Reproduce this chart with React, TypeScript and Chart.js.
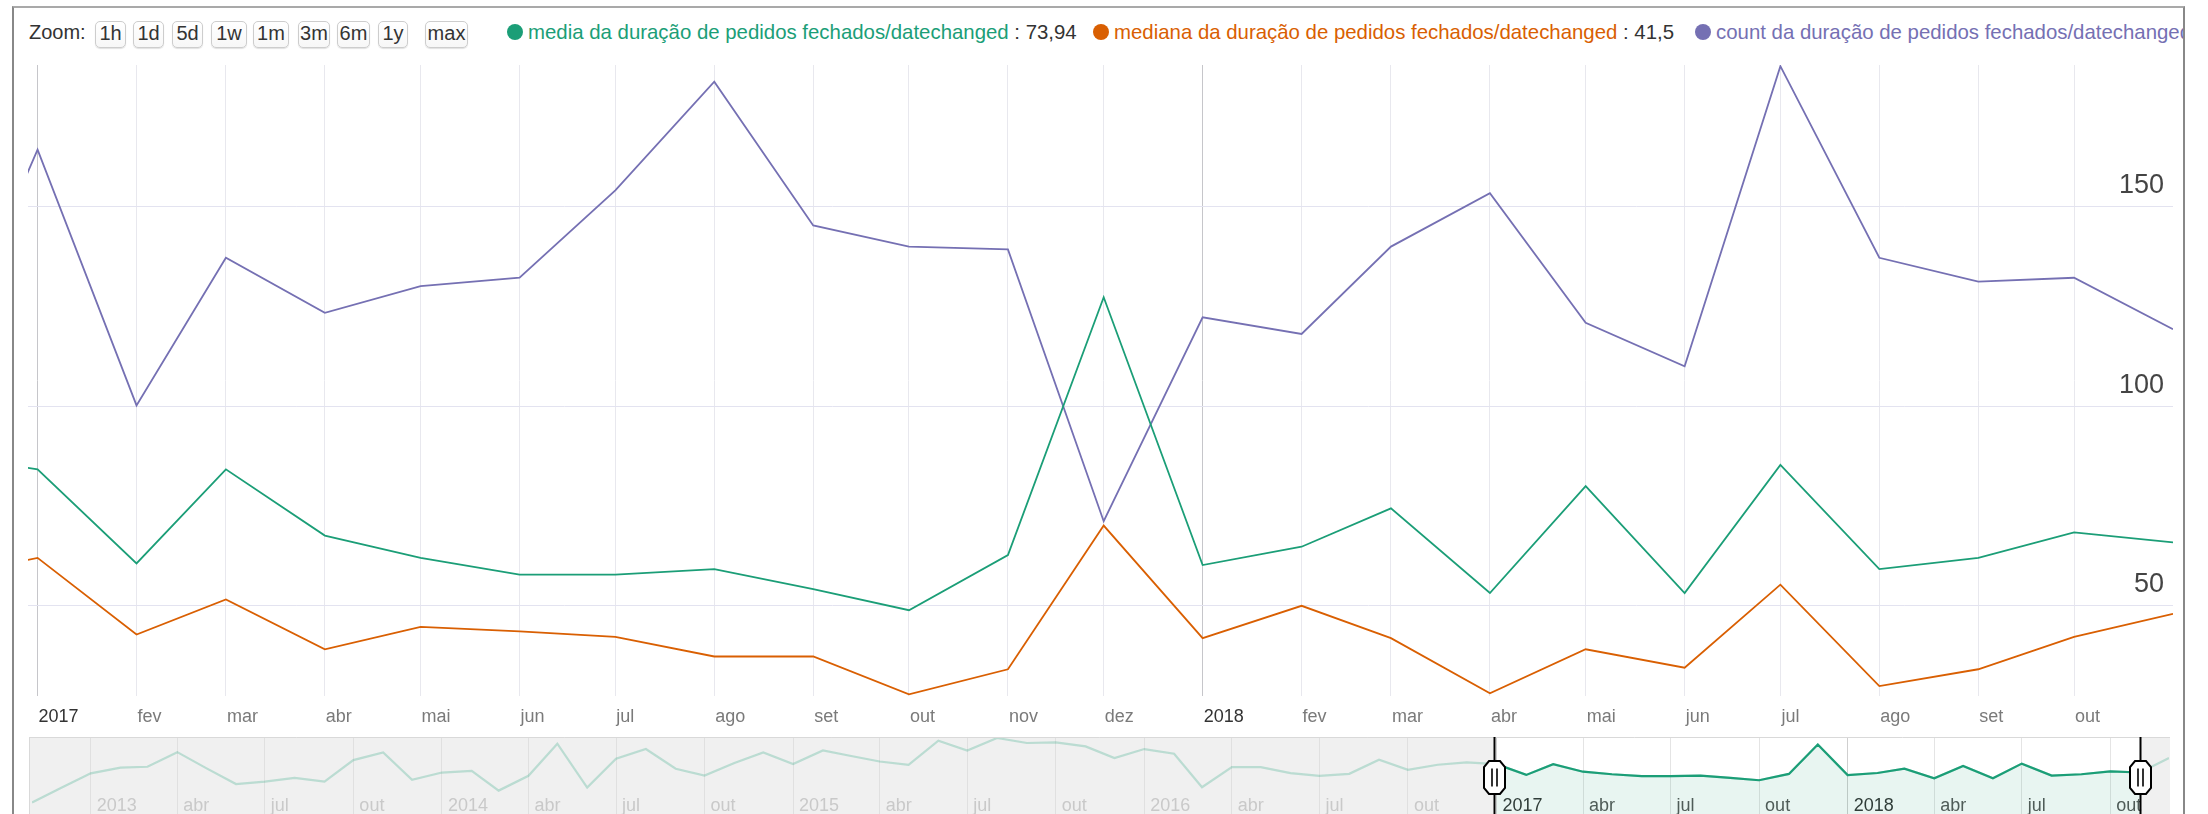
import React, { useEffect, useRef } from "react";
import { Chart, registerables } from "chart.js";

Chart.register(...registerables);

const FONT = '"Liberation Sans", Arial, Helvetica, sans-serif';
const GREEN = "#1b9e77";
const ORANGE = "#d95f02";
const PURPLE = "#7570b3";

// ---------- data (monthly, first day of month) ----------
const mediaStart = "2012-11";
const mediaValues = [
  0, 32,
  64, 76.5, 78.5, 110.5, 75.5, 40.5, 46, 54, 46, 93, 110, 49.7,
  65.8, 69.6, 26.2, 58.6, 129, 32.8, 96, 117.3, 74, 59.2, 86.5, 109.8,
  84.3, 114.2, 102.6, 90, 82.8, 135.6, 114.2, 141.5, 130.5, 131.9, 123, 97.5,
  117.3, 107, 33.7, 77.7, 77.7, 64.5, 58.6, 63, 93.8, 71.8, 82.8, 88,
  84.2, 60.6, 84.2, 67.6, 62.0, 57.8, 57.8, 59.2, 54.2, 48.9, 62.7, 127.3,
  60.2, 64.8, 74.4, 53.2, 80.0, 53.2, 85.3, 59.2, 62.0, 68.4, 65.9, 97.5,
];

const windowStart = "2016-12";
const medianaValues = [
  57, 62.0, 42.8, 51.6, 39.1, 44.7, 43.6, 42.2, 37.3, 37.3, 27.8, 34.1, 70.1,
  41.9, 50.0, 41.9, 28.1, 39.1, 34.5, 55.3, 29.9, 34.1, 42.2, 48.0,
];
const countValues = [
  107, 164.3, 100.2, 137.2, 123.4, 130.1, 132.2, 154.1, 181.3, 145.3, 140.0, 139.3, 71.2,
  122.3, 118.1, 140.0, 153.4, 120.9, 110.0, 185.2, 137.2, 131.2, 132.2, 119.3,
];

const seriesLabels = [
  "media da duração de pedidos fechados/datechanged",
  "mediana da duração de pedidos fechados/datechanged",
  "count da duração de pedidos fechados/datechanged",
];
const legendValues = ["73,94", "41,5", ""];

const VIEW_START = "2016-12-29";
const VIEW_END = "2018-11-01";

const mainTickMonths = [
  "2017-01", "2017-02", "2017-03", "2017-04", "2017-05", "2017-06", "2017-07", "2017-08",
  "2017-09", "2017-10", "2017-11", "2017-12", "2018-01", "2018-02", "2018-03", "2018-04",
  "2018-05", "2018-06", "2018-07", "2018-08", "2018-09", "2018-10",
];
const mainTickLabels = [
  "2017", "fev", "mar", "abr", "mai", "jun", "jul", "ago", "set", "out", "nov", "dez",
  "2018", "fev", "mar", "abr", "mai", "jun", "jul", "ago", "set", "out",
];
const yTickValues = [50, 100, 150];

const miniTickMonths = [
  "2013-01", "2013-04", "2013-07", "2013-10", "2014-01", "2014-04", "2014-07", "2014-10",
  "2015-01", "2015-04", "2015-07", "2015-10", "2016-01", "2016-04", "2016-07", "2016-10",
  "2017-01", "2017-04", "2017-07", "2017-10", "2018-01", "2018-04", "2018-07", "2018-10",
];
const miniTickLabels = [
  "2013", "abr", "jul", "out", "2014", "abr", "jul", "out",
  "2015", "abr", "jul", "out", "2016", "abr", "jul", "out",
  "2017", "abr", "jul", "out", "2018", "abr", "jul", "out",
];

const zoomButtons = ["1h", "1d", "5d", "1w", "1m", "3m", "6m", "1y", "max"];

// ---------- helpers ----------
const DAY = 86400000;
function dayOf(s: string): number {
  const p = s.split("-").map(Number);
  return Date.UTC(p[0], p[1] - 1, p[2] || 1) / DAY;
}
function monthSeq(start: string, n: number): number[] {
  const [y, m] = start.split("-").map(Number);
  const out: number[] = [];
  for (let i = 0; i < n; i++) {
    const mm = m - 1 + i;
    out.push(Date.UTC(y + Math.floor(mm / 12), mm % 12, 1) / DAY);
  }
  return out;
}
const isYearLabel = (s: string) => /^\d{4}$/.test(s);

// layout constants (pixels)
const MAIN_LEFT = 28;
const MAIN_TOP = 65;
const MAIN_W = 2145;
const MAIN_PLOT_H = 631;
const MAIN_AXIS_H = 40;
const MINI_LEFT = 29;
const MINI_TOP = 737;
const MINI_W = 2141;
const MINI_H = 79;

const buttonBoxes: [number, number][] = [
  [95, 31], [133, 31], [172, 31], [211, 36], [253, 36], [298, 32], [337, 33], [378, 30], [425, 43],
];
const legendDotX = [507, 1093, 1695];
const legendColors = [GREEN, ORANGE, PURPLE];

const zeroPad = (s: any) => {
  s.paddingTop = 0;
  s.paddingBottom = 0;
  s.paddingLeft = 0;
  s.paddingRight = 0;
};

export default function App() {
  const mainRef = useRef<HTMLCanvasElement>(null);
  const miniRef = useRef<HTMLCanvasElement>(null);

  useEffect(() => {
    const xs = monthSeq(mediaStart, mediaValues.length);
    const wxs = monthSeq(windowStart, medianaValues.length);
    const vStart = dayOf(VIEW_START);
    const vEnd = dayOf(VIEW_END);

    const mainTickVals = mainTickMonths.map(dayOf);
    const miniTickVals = miniTickMonths.map(dayOf);

    const main = new Chart(mainRef.current as HTMLCanvasElement, {
      type: "line",
      data: {
        datasets: [
          {
            label: seriesLabels[0],
            data: xs.map((x, i) => ({ x, y: mediaValues[i] })),
            borderColor: GREEN,
          },
          {
            label: seriesLabels[1],
            data: wxs.map((x, i) => ({ x, y: medianaValues[i] })),
            borderColor: ORANGE,
          },
          {
            label: seriesLabels[2],
            data: wxs.map((x, i) => ({ x, y: countValues[i] })),
            borderColor: PURPLE,
          },
        ],
      },
      options: {
        animation: false,
        responsive: false,
        devicePixelRatio: 1,
        layout: { padding: 0 },
        plugins: { legend: { display: false }, tooltip: { enabled: false } },
        elements: {
          point: { radius: 0 },
          line: { tension: 0, borderWidth: 1.8, fill: false },
        },
        scales: {
          x: {
            type: "linear",
            min: vStart,
            max: vEnd,
            afterBuildTicks: (s: any) => {
              s.ticks = mainTickVals.map((v) => ({ value: v }));
            },
            afterFit: (s: any) => {
              s.height = MAIN_AXIS_H;
              zeroPad(s);
            },
            grid: {
              drawTicks: false,
              color: (c: any) => {
                const i = mainTickVals.indexOf(c.tick?.value);
                return i >= 0 && isYearLabel(mainTickLabels[i]) ? "#c6c6ca" : "#e8e8ee";
              },
            },
            border: { display: false },
            ticks: {
              autoSkip: false,
              maxRotation: 0,
              align: "start",
              padding: 10,
              labelOffset: 1,
              font: { family: FONT, size: 18 },
              color: (c: any) => {
                const i = mainTickVals.indexOf(c.tick?.value);
                return i >= 0 && isYearLabel(mainTickLabels[i]) ? "#333" : "#7a7a7a";
              },
              callback: (_v: any, i: number) => mainTickLabels[i],
            },
          },
          y: {
            type: "linear",
            position: "right",
            min: 27.4,
            max: 185.5,
            afterBuildTicks: (s: any) => {
              s.ticks = yTickValues.map((v) => ({ value: v }));
            },
            afterFit: (s: any) => {
              s.width = 0;
              zeroPad(s);
            },
            grid: { drawTicks: false, color: "#e3e3f0" },
            border: { display: false },
            ticks: {
              mirror: true,
              padding: -9,
              labelOffset: -21,
              font: { family: FONT, size: 27 },
              color: "#444",
              callback: (v: any) => String(v),
            },
          },
        },
      },
    } as any);

    const selBg = {
      id: "selBg",
      beforeDraw(chart: any) {
        const { ctx, width, height } = chart;
        const sx = chart.scales.x;
        const l = sx.getPixelForValue(vStart);
        const r = sx.getPixelForValue(vEnd);
        ctx.save();
        ctx.fillStyle = "#f0f0f0";
        ctx.fillRect(0, 0, width, height);
        ctx.fillStyle = "#ffffff";
        ctx.fillRect(l, 0, r - l, height);
        ctx.restore();
      },
      afterDraw(chart: any) {
        const { ctx, width, height } = chart;
        const sx = chart.scales.x;
        ctx.save();
        ctx.strokeStyle = "#d9d9d9";
        ctx.lineWidth = 1;
        ctx.beginPath();
        ctx.moveTo(0, 0.5);
        ctx.lineTo(width, 0.5);
        ctx.moveTo(0.5, 0);
        ctx.lineTo(0.5, height);
        ctx.stroke();
        for (const v of [vStart, vEnd]) {
          const x = Math.round(sx.getPixelForValue(v)) + 0.5;
          ctx.strokeStyle = "#000";
          ctx.lineWidth = 2;
          ctx.beginPath();
          ctx.moveTo(x, 0);
          ctx.lineTo(x, height);
          ctx.stroke();
          const cy = 40.5;
          const hw = 10.5;
          const hh = 16.5;
          const cx = 5;
          const cyc = 6;
          ctx.beginPath();
          ctx.moveTo(x - hw + cx, cy - hh);
          ctx.lineTo(x + hw - cx, cy - hh);
          ctx.lineTo(x + hw, cy - hh + cyc);
          ctx.lineTo(x + hw, cy + hh - cyc);
          ctx.lineTo(x + hw - cx, cy + hh);
          ctx.lineTo(x - hw + cx, cy + hh);
          ctx.lineTo(x - hw, cy + hh - cyc);
          ctx.lineTo(x - hw, cy - hh + cyc);
          ctx.closePath();
          ctx.fillStyle = "#fff";
          ctx.fill();
          ctx.lineWidth = 2;
          ctx.stroke();
          ctx.lineWidth = 1.6;
          ctx.beginPath();
          ctx.moveTo(x - 2.5, cy - 9);
          ctx.lineTo(x - 2.5, cy + 9);
          ctx.moveTo(x + 2.5, cy - 9);
          ctx.lineTo(x + 2.5, cy + 9);
          ctx.stroke();
        }
        ctx.restore();
      },
    };

    const inSel = (v: number) => v >= vStart && v <= vEnd;

    const mini = new Chart(miniRef.current as HTMLCanvasElement, {
      type: "line",
      data: {
        datasets: [
          {
            label: "all",
            data: xs.map((x, i) => ({ x, y: mediaValues[i] })),
            borderColor: "rgba(27,158,119,0.25)",
            borderWidth: 2.2,
            fill: false,
          },
          {
            label: "selected",
            data: xs
              .map((x, i) => ({ x, y: mediaValues[i] }))
              .filter((p) => inSel(p.x)),
            borderColor: GREEN,
            borderWidth: 2.2,
            fill: "start",
            backgroundColor: "rgba(27,158,119,0.1)",
          },
        ],
      },
      options: {
        animation: false,
        responsive: false,
        devicePixelRatio: 1,
        layout: { padding: { left: 3, right: 1, top: 0, bottom: 0 } },
        plugins: { legend: { display: false }, tooltip: { enabled: false } },
        elements: { point: { radius: 0 }, line: { tension: 0 } },
        scales: {
          x: {
            type: "linear",
            min: xs[0],
            max: xs[xs.length - 1],
            afterBuildTicks: (s: any) => {
              s.ticks = miniTickVals.map((v) => ({ value: v }));
            },
            afterFit: (s: any) => {
              s.height = 0;
              zeroPad(s);
            },
            grid: {
              drawTicks: false,
              color: (c: any) => {
                const v = c.tick?.value;
                const i = miniTickVals.indexOf(v);
                if (inSel(v)) return i >= 0 && isYearLabel(miniTickLabels[i]) ? "#cfcfcf" : "#e4e4e4";
                return "#e0e0e0";
              },
            },
            border: { display: false },
            ticks: {
              autoSkip: false,
              maxRotation: 0,
              align: "start",
              mirror: true,
              padding: -1,
              labelOffset: 6,
              font: { family: FONT, size: 18 },
              color: (c: any) => {
                const v = c.tick?.value;
                const i = miniTickVals.indexOf(v);
                if (inSel(v)) return i >= 0 && isYearLabel(miniTickLabels[i]) ? "#333" : "#555";
                return "#c9c9c9";
              },
              callback: (_v: any, i: number) => miniTickLabels[i],
            },
          },
          y: {
            type: "linear",
            display: false,
            min: -29.5,
            max: 143.7,
          },
        },
      },
      plugins: [selBg],
    } as any);

    return () => {
      main.destroy();
      mini.destroy();
    };
  }, []);

  return (
    <div
      style={{
        position: "absolute",
        left: 0,
        top: 0,
        width: 2208,
        height: 814,
        overflow: "hidden",
        background: "#fff",
        fontFamily: FONT,
      }}
    >
      <div
        style={{
          position: "absolute",
          left: 12,
          top: 6,
          width: 2173,
          height: 860,
          boxSizing: "border-box",
          borderTop: "2px solid #a9a9a9",
          borderLeft: "2px solid #888",
          borderRight: "2px solid #888",
        }}
      />
      <div
        style={{
          position: "absolute",
          left: 14,
          top: 8,
          width: 2169,
          height: 52,
          overflow: "hidden",
          whiteSpace: "nowrap",
        }}
      >
        <div
          style={{
            position: "absolute",
            left: 29 - 14,
            top: 22 - 8,
            fontSize: 20,
            lineHeight: "20px",
            color: "#333",
          }}
        >
          Zoom:
        </div>
        {zoomButtons.map((b, i) => (
          <div
            key={b}
            style={{
              position: "absolute",
              left: buttonBoxes[i][0] - 14,
              top: 20.5 - 8,
              width: buttonBoxes[i][1],
              height: 27,
              boxSizing: "border-box",
              border: "1px solid #cdcdcd",
              borderRadius: 5,
              background: "linear-gradient(#ffffff, #f7f7f7)",
              boxShadow: "0 1px 1px rgba(0,0,0,0.12)",
              fontSize: 20,
              lineHeight: "23px",
              textAlign: "center",
              color: "#333",
            }}
          >
            {b}
          </div>
        ))}
        {seriesLabels.map((lab, i) => (
          <div
            key={lab}
            style={{
              position: "absolute",
              left: legendDotX[i] - 14,
              top: 22 - 8,
              fontSize: 20.4,
              lineHeight: "20px",
              display: "flex",
              alignItems: "center",
            }}
          >
            <span
              style={{
                display: "inline-block",
                width: 16,
                height: 16,
                borderRadius: 8,
                background: legendColors[i],
                marginRight: 5,
              }}
            />
            <span style={{ color: legendColors[i] }}>{lab}</span>
            {legendValues[i] ? (
              <span style={{ color: "#333" }}>{"\u00a0: " + legendValues[i]}</span>
            ) : null}
          </div>
        ))}
      </div>
      <canvas
        ref={mainRef}
        width={MAIN_W}
        height={MAIN_PLOT_H + MAIN_AXIS_H}
        style={{
          position: "absolute",
          left: MAIN_LEFT,
          top: MAIN_TOP,
          width: MAIN_W,
          height: MAIN_PLOT_H + MAIN_AXIS_H,
        }}
      />
      <canvas
        ref={miniRef}
        width={MINI_W}
        height={MINI_H}
        style={{
          position: "absolute",
          left: MINI_LEFT,
          top: MINI_TOP,
          width: MINI_W,
          height: MINI_H,
        }}
      />
    </div>
  );
}
